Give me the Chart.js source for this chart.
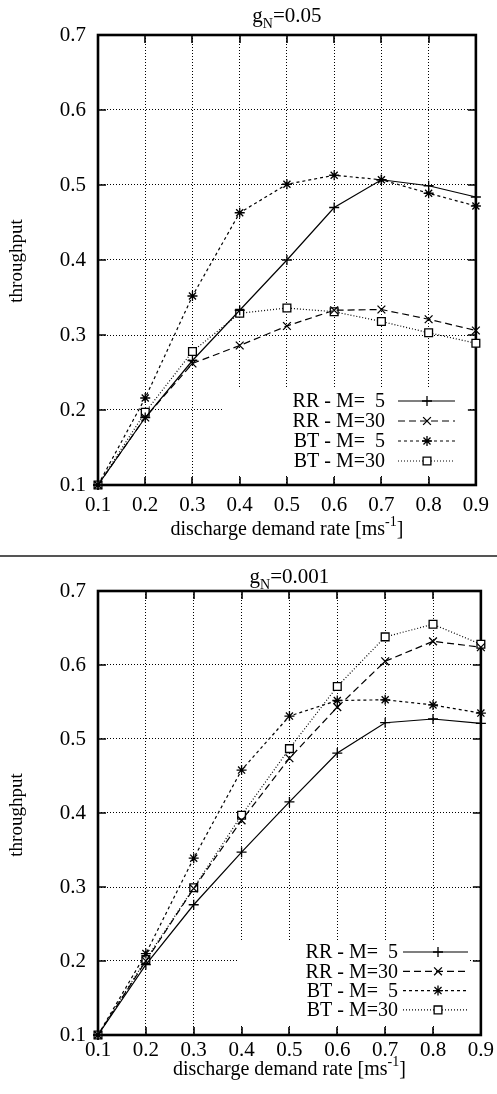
<!DOCTYPE html>
<html>
<head>
<meta charset="utf-8">
<title>throughput vs discharge demand rate</title>
<script src="https://cdn.jsdelivr.net/npm/chart.js@4.4.0/dist/chart.umd.min.js"></script>
<style>
  html, body { margin: 0; padding: 0; background: #fff; }
  #page { width: 497px; height: 1094px; position: relative; overflow: hidden; }
  canvas { display: block; position: absolute; left: 0; }
  #rule { position: absolute; left: 0; top: 555px; width: 497px; height: 2px; background: #555; }
</style>
</head>
<body>
<div id="page">
  <canvas id="chartHigh" width="497" height="555" style="top:0"></canvas>
  <div id="rule"></div>
  <canvas id="chartLow" width="497" height="536" style="top:558px"></canvas>
</div>
<script>
// x: discharge demand rate, y: throughput
const rates = [0.1, 0.2, 0.3, 0.4, 0.5, 0.6, 0.7, 0.8, 0.9];
const xTicks = [0.1, 0.2, 0.3, 0.4, 0.5, 0.6, 0.7, 0.8, 0.9];
const yTicks = [0.1, 0.2, 0.3, 0.4, 0.5, 0.6, 0.7];
// two spaces so the 5 lines up under the 0 of 30
const seriesNames = ['RR - M=  5', 'RR - M=30', 'BT - M=  5', 'BT - M=30'];

// gN = 0.05
const rrM5_high  = [0.100, 0.190, 0.266, 0.333, 0.400, 0.470, 0.507, 0.499, 0.484];
const rrM30_high = [0.100, 0.190, 0.262, 0.286, 0.312, 0.333, 0.334, 0.321, 0.306];
const btM5_high  = [0.100, 0.216, 0.352, 0.463, 0.501, 0.513, 0.507, 0.489, 0.472];
const btM30_high = [0.100, 0.197, 0.278, 0.329, 0.336, 0.331, 0.318, 0.303, 0.289];

// gN = 0.001
const rrM5_low  = [0.100, 0.195, 0.276, 0.347, 0.415, 0.481, 0.522, 0.527, 0.521];
const rrM30_low = [0.100, 0.200, 0.298, 0.390, 0.474, 0.543, 0.605, 0.632, 0.624];
const btM5_low  = [0.100, 0.210, 0.339, 0.458, 0.531, 0.552, 0.553, 0.546, 0.535];
const btM30_low = [0.100, 0.202, 0.299, 0.397, 0.487, 0.571, 0.638, 0.655, 0.628];

const SERIF = "'Liberation Serif', 'Times New Roman', serif";
Chart.defaults.font.family = SERIF;
Chart.defaults.color = '#000';

// line style + point symbol for each series, gnuplot-like
const seriesStyles = [
  { dash: [],     point: 'cross',    radius: 5 },
  { dash: [7, 4], point: 'crossRot', radius: 5.5 },
  { dash: [3, 3], point: 'star',     radius: 5 },
  { dash: [1, 2], point: 'rect',     radius: 5.5 }
];

function buildDatasets(valueLists) {
  return valueLists.map((vals, i) => ({
    label: seriesNames[i],
    data: rates.map((r, j) => ({ x: r, y: vals[j] })),
    borderColor: '#000',
    borderWidth: 1.2,
    borderDash: seriesStyles[i].dash,
    pointStyle: seriesStyles[i].point,
    pointRadius: seriesStyles[i].radius,
    pointBorderWidth: 1.3,
    pointBorderColor: '#000',
    pointBackgroundColor: '#fff',
    tension: 0,
    fill: false,
    clip: false
  }));
}

// draws a string made of parts, some of which may be sub/superscripts
function drawRich(ctx, parts, cx, cy, size) {
  const fontFor = p => ((p.sub || p.sup) ? Math.round(size * 0.68) : size) + 'px ' + SERIF;
  let total = 0;
  parts.forEach(p => { ctx.font = fontFor(p); total += ctx.measureText(p.t).width; });
  let x = cx - total / 2;
  ctx.textAlign = 'left';
  ctx.textBaseline = 'alphabetic';
  parts.forEach(p => {
    ctx.font = fontFor(p);
    let dy = 0;
    if (p.sub) dy = size * 0.28;
    if (p.sup) dy = -size * 0.42;
    ctx.fillText(p.t, x, cy + size * 0.33 + dy);
    x += ctx.measureText(p.t).width;
  });
}

const gnuplotFrame = {
  id: 'gnuplotFrame',
  beforeDatasetsDraw(chart, args, opts) {
    const { ctx, chartArea: a, scales } = chart;
    ctx.save();
    // the key box hides the grid below it
    const k = opts.keyBox;
    ctx.fillStyle = '#fff';
    ctx.fillRect(k.x0, k.y0, k.x1 - k.x0, k.y1 - k.y0);

    // inward tick marks on all four sides
    ctx.setLineDash([]);
    ctx.strokeStyle = '#000';
    ctx.lineWidth = 1.6;
    ctx.beginPath();
    xTicks.forEach(v => {
      const px = Math.round(scales.x.getPixelForValue(v));
      ctx.moveTo(px, a.bottom); ctx.lineTo(px, a.bottom - 8);
      ctx.moveTo(px, a.top); ctx.lineTo(px, a.top + 8);
    });
    yTicks.forEach(v => {
      const py = Math.round(scales.y.getPixelForValue(v));
      ctx.moveTo(a.left, py); ctx.lineTo(a.left + 8, py);
      ctx.moveTo(a.right, py); ctx.lineTo(a.right - 8, py);
    });
    ctx.stroke();

    ctx.lineWidth = 2.6;
    ctx.strokeRect(a.left, a.top, a.right - a.left, a.bottom - a.top);
    ctx.restore();
  },
  afterDraw(chart, args, opts) {
    const { ctx, chartArea: a } = chart;
    const cx = (a.left + a.right) / 2;
    ctx.save();
    ctx.fillStyle = '#000';

    drawRich(ctx, opts.title, cx, opts.titleY, 21);
    drawRich(ctx, [
      { t: 'discharge demand rate [ms' }, { t: '-1', sup: true }, { t: ']' }
    ], cx, opts.xTitleY, 20);

    // y axis title
    ctx.save();
    ctx.translate(opts.yTitle.x, opts.yTitle.y);
    ctx.rotate(-Math.PI / 2);
    ctx.font = '19px ' + SERIF;
    ctx.textAlign = 'center';
    ctx.textBaseline = 'middle';
    ctx.fillText('throughput', 0, 0);
    ctx.restore();

    // key: label, then line sample with its symbol
    const key = opts.key;
    chart.data.datasets.forEach((ds, i) => {
      const y = key.y0 + i * key.dy;
      ctx.font = '20px ' + SERIF;
      ctx.textAlign = 'right';
      ctx.textBaseline = 'middle';
      ctx.fillText(ds.label, key.textRight, y + 1);

      ctx.strokeStyle = '#000';
      ctx.lineWidth = ds.borderWidth;
      ctx.setLineDash(ds.borderDash);
      ctx.beginPath();
      ctx.moveTo(key.x0, y); ctx.lineTo(key.x1, y);
      ctx.stroke();
      ctx.setLineDash([]);
      ctx.fillStyle = '#fff';
      ctx.lineWidth = ds.pointBorderWidth;
      Chart.helpers.drawPoint(ctx, {
        pointStyle: ds.pointStyle, radius: ds.pointRadius,
        borderWidth: ds.pointBorderWidth, rotation: 0
      }, key.mark, y);
      ctx.fillStyle = '#000';
    });
    ctx.restore();
  }
};

function makeChart(id, valueLists, f) {
  const canvas = document.getElementById(id);
  return new Chart(canvas, {
    type: 'line',
    data: { datasets: buildDatasets(valueLists) },
    options: {
      responsive: false,
      animation: false,
      layout: { padding: { top: f.top, right: canvas.width - f.right, left: 0, bottom: 0 } },
      plugins: {
        legend: { display: false },
        tooltip: { enabled: false },
        gnuplotFrame: f
      },
      scales: {
        x: {
          type: 'linear',
          min: 0.1,
          max: 0.9,
          afterBuildTicks: s => { s.ticks = xTicks.map(v => ({ value: v })); },
          afterFit: s => { s.height = canvas.height - f.bottom; },
          grid: { color: '#000', lineWidth: 1, drawTicks: false },
          border: { display: false, dash: [1, 2] },
          ticks: {
            padding: f.xTickPad,
            autoSkip: false,
            maxRotation: 0,
            font: { size: 21 },
            callback: v => v.toFixed(1)
          }
        },
        y: {
          min: 0.1,
          max: 0.7,
          afterBuildTicks: s => { s.ticks = yTicks.map(v => ({ value: v })); },
          afterFit: s => { s.width = f.left; },
          grid: { color: '#000', lineWidth: 1, drawTicks: false },
          border: { display: false, dash: [1, 2] },
          ticks: {
            padding: 12,
            font: { size: 21 },
            callback: v => v.toFixed(1)
          }
        }
      }
    },
    plugins: [gnuplotFrame]
  });
}

makeChart('chartHigh', [rrM5_high, rrM30_high, btM5_high, btM30_high], {
  left: 98, right: 482, top: 35, bottom: 485,
  xTickPad: 8,
  title: [{ t: 'g' }, { t: 'N', sub: true }, { t: '=0.05' }],
  titleY: 15,
  xTitleY: 528,
  yTitle: { x: 17, y: 261 },
  keyBox: { x0: 224, y0: 388, x1: 470, y1: 476 },
  key: { textRight: 385, x0: 398, x1: 455, mark: 427, y0: 401, dy: 20 }
});

makeChart('chartLow', [rrM5_low, rrM30_low, btM5_low, btM30_low], {
  left: 98, right: 482, top: 33, bottom: 477,
  xTickPad: 3,
  title: [{ t: 'g' }, { t: 'N', sub: true }, { t: '=0.001' }],
  titleY: 18,
  xTitleY: 510,
  yTitle: { x: 17, y: 257 },
  keyBox: { x0: 238, y0: 382, x1: 470, y1: 467 },
  key: { textRight: 398, x0: 403, x1: 468, mark: 438, y0: 394, dy: 19.3 }
});
</script>
</body>
</html>
